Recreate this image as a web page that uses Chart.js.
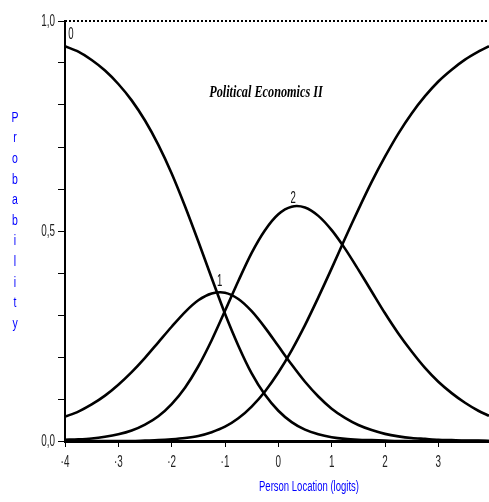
<!DOCTYPE html>
<html>
<head>
<meta charset="utf-8">
<script src="https://cdn.jsdelivr.net/npm/chart.js@4"></script>
<style>
  html, body { margin:0; padding:0; background:#fff; }
  #wrap { width:489px; height:502px; }
</style>
</head>
<body>
<div id="wrap"><canvas id="ccc" width="489" height="502"></canvas></div>
<script>
// person location (logits)
const xs = [-4,-3.75,-3.5,-3.25,-3,-2.75,-2.5,-2.25,-2,-1.75,-1.5,-1.25,-1,-0.75,-0.5,-0.25,
            0,0.25,0.5,0.75,1,1.25,1.5,1.75,2,2.25,2.5,2.75,3,3.25,3.5,3.75,3.95];

// category probability curves
const p0 = [0.94,0.927,0.907,0.882,0.85,0.811,0.763,0.705,0.637,0.559,0.475,0.388,0.303,0.227,0.161,0.11,
            0.072,0.045,0.027,0.016,0.009,0.005,0.003,0.002,0.001,0,0,0,0,0,0,0,0];
const p1 = [0.058,0.07,0.087,0.108,0.134,0.164,0.198,0.235,0.272,0.307,0.335,0.351,0.353,0.338,0.309,0.27,
            0.226,0.182,0.141,0.106,0.077,0.055,0.038,0.026,0.017,0.011,0.007,0.005,0.003,0.002,0.001,0.001,0];
const p2 = [0.003,0.004,0.006,0.01,0.016,0.025,0.039,0.059,0.088,0.127,0.178,0.24,0.31,0.381,0.448,0.502,
            0.54,0.558,0.556,0.536,0.502,0.458,0.408,0.356,0.304,0.256,0.213,0.174,0.141,0.114,0.091,0.072,0.06];
const p3 = [0,0,0,0,0,0,0.001,0.002,0.004,0.007,0.012,0.021,0.034,0.054,0.082,0.118,
            0.163,0.216,0.276,0.342,0.411,0.482,0.551,0.617,0.677,0.732,0.78,0.821,0.856,0.884,0.908,0.927,0.94];

const xTicks = [-4,-3,-2,-1,0,1,2,3];
const yTickLabels = [[0,'0,0'],[0.5,'0,5'],[1,'1,0']];

// curve labels: [text, x, y]
const curveLabels = [['0',-3.89,0.967],['1',-1.1,0.38],['2',0.28,0.576]];

const sans = '"Liberation Sans", Arial, sans-serif';

function pts(ys) { return xs.map((x,i) => ({x:x, y:ys[i]})); }
function curve(ys) {
  return { data: pts(ys), borderColor:'#000', borderWidth:2.6, pointRadius:0, showLine:true, tension:0.3, fill:false };
}

// squeezed text, the original uses a tall narrow face
function narrowText(ctx, txt, x, y, sx) {
  ctx.save();
  ctx.translate(x, y);
  ctx.scale(sx, 1);
  ctx.fillText(txt, 0, 0);
  ctx.restore();
}

const textPlugin = {
  id: 'texts',
  afterDraw(chart) {
    const ctx = chart.ctx, xs_ = chart.scales.x, ys_ = chart.scales.y;
    ctx.save();
    ctx.textAlign = 'center';
    ctx.textBaseline = 'middle';

    // tick labels
    ctx.fillStyle = '#222';
    ctx.font = '17px ' + sans;
    xTicks.forEach(v => {
      narrowText(ctx, String(v).replace('-', '\u00b7'), xs_.getPixelForValue(v), 462, 0.58);
    });
    ctx.textAlign = 'right';
    yTickLabels.forEach(t => {
      narrowText(ctx, t[1], 55, ys_.getPixelForValue(t[0]), 0.58);
    });
    ctx.textAlign = 'center';

    // title
    ctx.fillStyle = '#000';
    ctx.font = 'bold italic 17px "Liberation Serif", "DejaVu Serif", serif';
    narrowText(ctx, 'Political Economics II', 266, 93, 0.72);

    // y title, stacked letters
    ctx.fillStyle = '#0000ff';
    ctx.font = '14px ' + sans;
    const word = 'Probability';
    for (let i = 0; i < word.length; i++) {
      narrowText(ctx, word[i], 15, 118 + i * 20.6, 0.75);
    }
    // x title
    narrowText(ctx, 'Person Location (logits)', 309, 487, 0.68);

    // curve labels
    ctx.fillStyle = '#111';
    ctx.font = '16px ' + sans;
    curveLabels.forEach(l => {
      narrowText(ctx, l[0], xs_.getPixelForValue(l[1]), ys_.getPixelForValue(l[2]), 0.6);
    });
    ctx.restore();
  }
};

new Chart(document.getElementById('ccc'), {
  type: 'scatter',
  data: {
    datasets: [
      curve(p0), curve(p1), curve(p2), curve(p3),
      { data:[{x:-4,y:1},{x:3.95,y:1}], borderColor:'#000', borderWidth:2, borderDash:[2,2],
        pointRadius:0, showLine:true, fill:false, clip:false }
    ]
  },
  options: {
    responsive:false,
    animation:false,
    layout:{ padding:{ top:21, right:0, left:0, bottom:0 } },
    plugins:{ legend:{display:false}, tooltip:{enabled:false} },
    scales:{
      x:{
        type:'linear', min:-4, max:3.95,
        afterBuildTicks: s => { s.ticks = xTicks.map(v => ({value:v})); },
        afterFit: s => { s.height = 61; },
        border:{ color:'#000', width:3 },
        grid:{ drawOnChartArea:false, drawTicks:true, tickLength:6, tickColor:'#000', tickWidth:1 },
        ticks:{ display:false }
      },
      y:{
        min:0, max:1,
        ticks:{ display:false, stepSize:0.1 },
        afterFit: s => { s.width = 65; },
        border:{ color:'#000', width:2 },
        grid:{ drawOnChartArea:false, drawTicks:true, tickLength:7, tickColor:'#000', tickWidth:1 }
      }
    }
  },
  plugins:[textPlugin]
});
</script>
</body>
</html>
